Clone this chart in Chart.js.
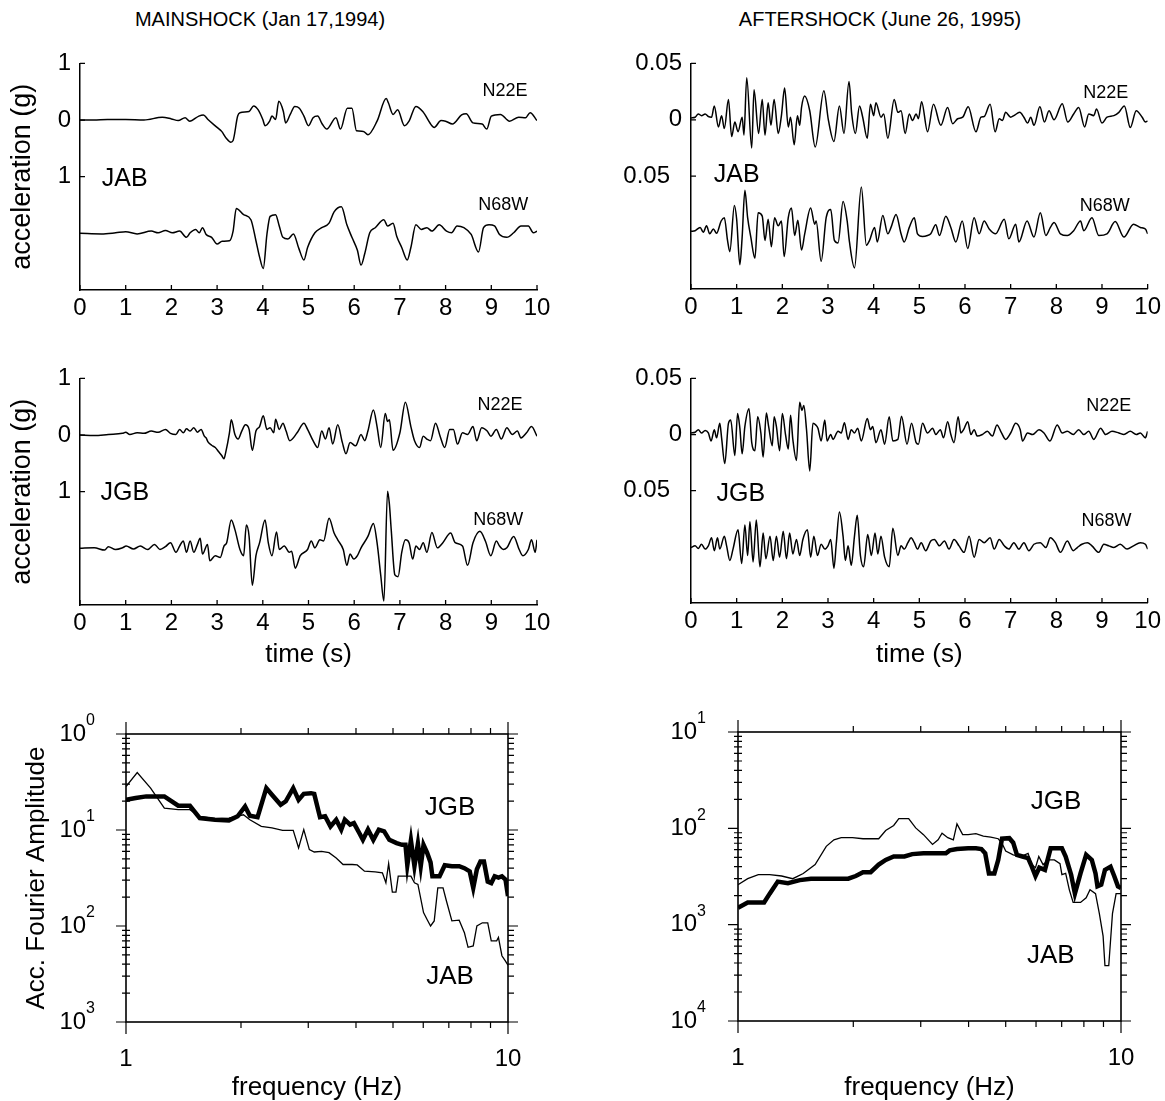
<!DOCTYPE html>
<html><head><meta charset="utf-8"><title>JAB / JGB mainshock and aftershock records</title>
<script src="https://cdn.jsdelivr.net/npm/chart.js@4.4.1/dist/chart.umd.min.js"></script>
<style>
html,body{margin:0;padding:0;background:#fff}
body{position:relative;width:1165px;height:1101px;overflow:hidden;font-family:"Liberation Sans",Arial,Helvetica,sans-serif;color:#000}
canvas{position:absolute}
.ttl{position:absolute;top:19px;font-size:20px;transform:translate(-50%,-50%);white-space:nowrap}
</style></head><body>
<div class="ttl" style="left:260px">MAINSHOCK (Jan 17,1994)</div>
<div class="ttl" style="left:880px">AFTERSHOCK (June 26, 1995)</div>
<canvas id="p1" width="560" height="300" style="left:0;top:40px"></canvas>
<canvas id="p2" width="585" height="300" style="left:580px;top:40px"></canvas>
<canvas id="p3" width="560" height="320" style="left:0;top:355px"></canvas>
<canvas id="p4" width="585" height="320" style="left:580px;top:355px"></canvas>
<canvas id="p5" width="560" height="401" style="left:0;top:700px"></canvas>
<canvas id="p6" width="585" height="401" style="left:580px;top:700px"></canvas>
<script>
// ---------------- DATA ----------------
// time (s), acceleration (g) pairs read from the records
const jabMainN22E = [[0,0],[0.3,0],[0.6,0.01],[1.0,0.01],[1.4,0],[1.8,0.05],[2.0,0.02],[2.15,-0.01],[2.3,0.04],[2.4,-0.02],[2.6,0.07],[2.7,0.09],[2.8,0.01],[3.0,-0.13],[3.1,-0.2],[3.2,-0.32],[3.3,-0.39],[3.35,-0.36],[3.45,0.07],[3.5,0.13],[3.7,0.15],[3.8,0.25],[3.9,0.18],[4.0,0.01],[4.05,-0.1],[4.15,-0.02],[4.2,0.07],[4.28,0.01],[4.35,0.33],[4.45,0.15],[4.5,-0.05],[4.6,0.1],[4.7,0.24],[4.8,0.21],[4.9,0.07],[5.0,-0.1],[5.1,0.04],[5.2,0.07],[5.3,-0.07],[5.4,-0.16],[5.6,0.04],[5.7,-0.16],[5.85,0.21],[5.95,0.21],[6.05,-0.19],[6.2,-0.2],[6.3,-0.26],[6.5,-0.02],[6.7,0.38],[6.75,0.3],[6.85,0.1],[6.95,0.18],[7.1,-0.1],[7.2,-0.02],[7.35,0.24],[7.5,0.15],[7.7,-0.1],[7.75,-0.13],[7.9,-0.01],[8.0,-0.02],[8.15,-0.07],[8.35,0.09],[8.45,0.11],[8.6,-0.05],[8.8,-0.07],[8.9,-0.16],[9.0,0.07],[9.2,0.1],[9.4,-0.02],[9.6,0.05],[9.75,0.04],[9.85,0.13],[10,-0.01]];
const jabMainN68W = [[0,0],[0.47,-0.01],[0.78,0.01],[1.0,0.03],[1.25,-0.01],[1.56,0.04],[1.71,0.01],[1.87,0.05],[2.02,0.01],[2.18,0.04],[2.33,-0.07],[2.41,0.01],[2.53,0.07],[2.61,0.01],[2.68,0.1],[2.76,-0.02],[2.88,-0.07],[3.0,-0.19],[3.11,-0.14],[3.27,-0.13],[3.35,0.04],[3.42,0.44],[3.58,0.33],[3.74,0.24],[3.85,-0.13],[3.93,-0.42],[4.01,-0.62],[4.09,-0.02],[4.16,0.3],[4.28,0.33],[4.36,0.13],[4.44,-0.07],[4.55,-0.1],[4.67,-0.01],[4.79,-0.27],[4.9,-0.47],[4.98,-0.25],[5.14,0.01],[5.29,0.1],[5.45,0.18],[5.56,0.38],[5.72,0.47],[5.84,0.15],[5.95,-0.07],[6.07,-0.3],[6.15,-0.56],[6.23,-0.36],[6.34,0.01],[6.46,0.1],[6.65,0.24],[6.73,0.13],[6.85,0.18],[6.93,-0.05],[7.04,-0.25],[7.16,-0.47],[7.24,-0.25],[7.35,0.15],[7.47,0.07],[7.59,0.1],[7.7,0.04],[7.86,0.15],[8.02,0.04],[8.13,0.01],[8.25,0.13],[8.4,0.1],[8.56,-0.02],[8.72,-0.33],[8.83,0.1],[8.95,0.15],[9.07,0.13],[9.18,-0.02],[9.34,-0.07],[9.49,0.01],[9.65,0.13],[9.81,0.13],[9.92,0.01],[10,0.04]];
const jgbMainN22E = [[0,0],[0.31,-0.01],[0.62,0.01],[0.93,0.03],[1.0,0.05],[1.09,0.01],[1.25,0.04],[1.4,0.03],[1.56,0.07],[1.71,0.05],[1.87,0.1],[1.98,0.03],[2.1,0.01],[2.18,0.1],[2.26,0.04],[2.33,0.11],[2.41,0.07],[2.49,0.13],[2.57,0.05],[2.65,0.1],[2.72,-0.02],[2.76,-0.05],[2.8,-0.12],[2.88,-0.18],[2.96,-0.22],[3.04,-0.3],[3.1,-0.36],[3.15,-0.42],[3.19,-0.3],[3.27,0.04],[3.31,0.27],[3.39,0.01],[3.46,-0.07],[3.54,0.07],[3.62,0.18],[3.7,0.1],[3.77,-0.27],[3.85,0.07],[3.93,0.15],[4.01,0.34],[4.09,0.1],[4.16,0.13],[4.24,0.04],[4.28,0.28],[4.36,0.1],[4.44,0.21],[4.51,0.07],[4.59,-0.1],[4.75,0.04],[4.9,0.21],[4.98,0.1],[5.1,-0.1],[5.2,-0.22],[5.29,0.07],[5.37,-0.07],[5.45,0.13],[5.53,-0.16],[5.64,0.18],[5.74,-0.13],[5.82,-0.33],[5.91,-0.13],[6.03,-0.19],[6.15,0.01],[6.23,-0.1],[6.3,0.07],[6.42,0.44],[6.5,0.15],[6.58,-0.22],[6.68,0.38],[6.73,0.24],[6.77,0.27],[6.85,-0.27],[7.0,0.04],[7.12,0.58],[7.24,0.15],[7.32,-0.1],[7.43,-0.22],[7.51,-0.02],[7.59,-0.07],[7.67,-0.1],[7.78,0.21],[7.88,-0.02],[7.98,-0.22],[8.09,0.1],[8.17,0.1],[8.26,-0.16],[8.37,0.04],[8.48,0.01],[8.6,0.15],[8.68,-0.1],[8.79,0.13],[8.91,0.07],[8.99,-0.02],[9.11,0.1],[9.22,-0.07],[9.34,0.13],[9.46,0.01],[9.57,0.07],[9.65,-0.05],[9.77,0.04],[9.88,0.15],[10,-0.02]];
const jgbMainN68W = [[0,0],[0.31,0.01],[0.54,-0.03],[0.62,0.03],[0.78,-0.02],[0.93,0.01],[1.01,0.04],[1.17,-0.01],[1.32,0.04],[1.48,-0.02],[1.63,0.07],[1.75,-0.02],[1.87,0.03],[1.98,0.1],[2.1,-0.07],[2.18,0.04],[2.26,0.13],[2.33,-0.07],[2.41,0.13],[2.49,-0.07],[2.57,0.07],[2.63,0.18],[2.68,-0.1],[2.79,0.07],[2.84,-0.22],[2.96,-0.13],[3.07,-0.16],[3.15,0.04],[3.21,0.1],[3.31,0.5],[3.39,0.33],[3.5,-0.02],[3.58,-0.13],[3.64,0.41],[3.7,0.21],[3.77,-0.65],[3.85,-0.13],[3.93,0.1],[4.05,0.5],[4.12,0.1],[4.2,-0.13],[4.3,0.29],[4.36,-0.02],[4.47,0.04],[4.58,-0.07],[4.63,-0.05],[4.71,-0.35],[4.82,-0.13],[4.98,-0.02],[5.06,0.13],[5.14,0.01],[5.25,0.15],[5.33,0.13],[5.45,0.53],[5.56,0.27],[5.64,0.15],[5.76,-0.02],[5.84,-0.3],[5.91,-0.1],[5.99,-0.19],[6.07,-0.13],[6.15,0.01],[6.3,0.21],[6.42,0.44],[6.5,0.1],[6.58,-0.47],[6.65,-0.93],[6.73,1.01],[6.77,0.78],[6.81,0.33],[6.89,-0.47],[6.96,-0.5],[7.04,-0.07],[7.12,0.15],[7.2,0.1],[7.28,-0.19],[7.35,0.04],[7.43,-0.02],[7.51,0.1],[7.59,-0.07],[7.7,0.28],[7.82,0.01],[7.94,0.1],[8.11,0.27],[8.21,0.1],[8.37,0.04],[8.48,-0.3],[8.6,0.1],[8.75,0.3],[8.87,0.13],[8.99,-0.13],[9.11,0.13],[9.18,0.04],[9.26,-0.02],[9.34,0.01],[9.49,0.21],[9.61,-0.02],[9.69,-0.13],[9.81,-0.02],[9.88,0.15],[9.96,-0.07],[10,0.15]];
const jabAfterN22E = [[0,0.0017],[0.09,0.0023],[0.16,0.0052],[0.23,0.0037],[0.31,0.0052],[0.38,0.0029],[0.45,0.0023],[0.51,0.0123],[0.6,-0.0063],[0.67,0.0037],[0.73,-0.0078],[0.82,0.0181],[0.89,-0.0149],[0.96,-0.002],[1.03,-0.0106],[1.12,0.0023],[1.16,-0.0135],[1.22,0.0373],[1.33,-0.025],[1.38,0.0267],[1.48,-0.0121],[1.56,0.0181],[1.62,-0.0135],[1.69,0.0152],[1.75,-0.0049],[1.82,0.0181],[1.91,-0.0121],[1.98,0.0037],[2.05,0.0281],[2.13,-0.0063],[2.18,0.0023],[2.26,-0.0221],[2.33,0.0037],[2.38,-0.0049],[2.42,0.0109],[2.49,0.021],[2.6,0.008],[2.72,-0.0241],[2.91,0.0258],[3.01,-0.0006],[3.13,-0.0192],[3.25,0.0123],[3.35,-0.0121],[3.46,0.0339],[3.52,0.0052],[3.6,-0.0121],[3.69,0.0123],[3.76,0.0023],[3.86,-0.0164],[3.93,0.0138],[4.0,0.0037],[4.05,0.0152],[4.16,0.0023],[4.22,0.0052],[4.31,-0.0164],[4.45,0.0181],[4.53,0.0066],[4.6,0.008],[4.69,-0.0121],[4.78,0.0052],[4.85,-0.0006],[4.93,0.0052],[4.98,0.001],[5.05,0.0161],[5.18,-0.0106],[5.31,0.0138],[5.47,-0.0049],[5.62,0.0109],[5.73,-0.0034],[5.84,0.0009],[5.95,0.0023],[6.07,0.0115],[6.24,-0.0106],[6.35,0.0023],[6.42,0.0029],[6.55,0.0138],[6.66,-0.0106],[6.75,0.0009],[6.82,-0.0006],[6.89,0.0066],[7.0,0.0023],[7.07,0.0037],[7.2,0.0066],[7.29,0.0023],[7.37,-0.0029],[7.44,0.0023],[7.51,-0.0049],[7.64,0.0115],[7.74,-0.002],[7.84,0.008],[7.95,0],[8.13,0.0143],[8.25,-0.002],[8.38,0.0052],[8.49,0.0109],[8.62,-0.0063],[8.71,0.0052],[8.82,0.0037],[8.88,0.0095],[9.0,-0.0029],[9.11,0.0023],[9.26,0.0037],[9.37,0.0066],[9.49,0.0123],[9.62,-0.0069],[9.75,0.008],[9.88,0.0023],[9.95,-0.002],[10,-0.0011]];
const jabAfterN68W = [[0,0.0011],[0.09,0.0017],[0.2,0.0046],[0.27,0.0003],[0.34,0.006],[0.41,-0.0011],[0.49,0.0032],[0.56,-0.0006],[0.66,0.0103],[0.73,0.0132],[0.8,-0.0069],[0.85,-0.0169],[0.95,0.0241],[1.0,0.0118],[1.07,-0.0284],[1.12,-0.004],[1.18,0.0376],[1.24,0.0132],[1.31,-0.004],[1.4,-0.0227],[1.47,0.0175],[1.56,0.0146],[1.62,-0.0069],[1.69,0.0118],[1.76,-0.0126],[1.83,0.0132],[1.91,0.006],[1.98,0.0103],[2.04,-0.0212],[2.13,0.0132],[2.2,0.0218],[2.27,-0.0026],[2.34,0.0109],[2.42,-0.0155],[2.49,-0.0011],[2.62,0.0218],[2.71,0.0075],[2.74,0.0103],[2.85,-0.0255],[2.96,0.0132],[3.06,0.0204],[3.14,-0.0069],[3.22,-0.0092],[3.33,0.0276],[3.42,0.0103],[3.47,-0.0083],[3.58,-0.0313],[3.73,0.0405],[3.84,-0.0112],[3.91,-0.0069],[4.02,0.0046],[4.08,-0.0083],[4.2,0.0152],[4.31,-0.0011],[4.38,0.0046],[4.49,0.0161],[4.6,-0.0011],[4.67,-0.0083],[4.78,0.0046],[4.89,0.0132],[4.96,-0.0011],[5.07,-0.0034],[5.18,-0.0026],[5.25,-0.0011],[5.36,0.0069],[5.44,-0.0026],[5.58,0.0146],[5.69,0.0046],[5.8,-0.0083],[5.94,0.0103],[6.06,-0.0141],[6.2,0.0132],[6.31,-0.0011],[6.42,0.0103],[6.53,0.0032],[6.67,-0.0011],[6.86,0.0118],[6.96,-0.0055],[7.11,0.0075],[7.18,-0.0083],[7.36,0.0103],[7.51,-0.004],[7.65,0.0175],[7.77,-0.0026],[7.87,0.0046],[7.95,0.0089],[8.09,-0.0011],[8.24,-0.0026],[8.38,0.0017],[8.53,0.0103],[8.6,0.0017],[8.78,0.0132],[8.93,-0.0026],[9.11,-0.0011],[9.29,0.0098],[9.48,-0.004],[9.69,0.0075],[9.84,0.0046],[9.95,0.0032],[10,-0.0011]];
const jgbAfterN22E = [[0,0.0014],[0.09,0.002],[0.16,0.0043],[0.23,0.0014],[0.31,0.0037],[0.38,0.0014],[0.44,-0.0057],[0.51,0.0043],[0.56,-0.0029],[0.63,0.01],[0.67,-0.0029],[0.74,-0.0258],[0.82,0.01],[0.87,0.0129],[0.96,-0.0187],[1.02,0.0187],[1.07,0.0057],[1.12,-0.0172],[1.18,0.0072],[1.27,0.023],[1.33,-0.0072],[1.4,-0.0144],[1.46,0.0158],[1.53,0.0014],[1.58,-0.0201],[1.65,0.0192],[1.7,0.0072],[1.78,-0.01],[1.82,0.0158],[1.87,0.0072],[1.94,-0.0144],[2.0,0.0187],[2.07,0],[2.13,-0.0129],[2.18,0.0172],[2.23,-0.0043],[2.31,-0.023],[2.38,0.0287],[2.43,0.0215],[2.47,0.0258],[2.53,0.0043],[2.6,-0.0324],[2.67,0.01],[2.73,0.0086],[2.78,0.0057],[2.85,-0.0057],[2.93,0.0129],[2.98,-0.0057],[3.06,0],[3.11,-0.0043],[3.22,0.0029],[3.29,0.0014],[3.36,0.0106],[3.44,-0.0043],[3.51,0.0043],[3.58,0.0014],[3.65,0.0057],[3.73,-0.0057],[3.86,0.0143],[3.93,0.0043],[3.98,0.0072],[4.05,-0.0072],[4.16,0.0043],[4.24,-0.0086],[4.34,0.0158],[4.42,-0.0057],[4.53,-0.0043],[4.61,0.0164],[4.73,-0.0086],[4.83,0.01],[4.93,-0.0072],[4.98,-0.0086],[5.07,0.01],[5.18,0.0014],[5.29,0.0057],[5.36,0],[5.46,0.0043],[5.53,-0.0029],[5.62,0.0115],[5.69,0],[5.76,-0.0072],[5.85,0.0158],[5.91,0.0014],[5.97,0.0043],[6.06,0.0115],[6.13,0],[6.2,0.0043],[6.27,-0.0014],[6.38,0],[6.49,0.0029],[6.6,-0.0014],[6.7,0.0086],[6.8,0.0014],[6.89,-0.0043],[7.0,0.0014],[7.11,0.01],[7.21,0.0043],[7.26,-0.0057],[7.37,0.0014],[7.48,0],[7.62,0.0043],[7.73,0.0014],[7.86,-0.0057],[8.02,0.0086],[8.13,0.0014],[8.24,0.0029],[8.37,0],[8.49,0.0043],[8.6,0],[8.71,0.0029],[8.82,-0.0043],[8.97,0.0057],[9.08,0],[9.22,0.0029],[9.37,0.0014],[9.48,0],[9.62,0.0029],[9.75,0],[9.84,0.0014],[9.95,-0.0029],[10,0.0029]];
const jgbAfterN68W = [[0,-0.0006],[0.09,0.0009],[0.16,-0.0014],[0.23,0.0023],[0.31,-0.002],[0.38,0.0009],[0.45,0.008],[0.51,-0.0034],[0.58,0.008],[0.63,-0.002],[0.73,0.0095],[0.78,0.0009],[0.85,-0.0121],[0.92,-0.002],[1.03,0.0152],[1.11,-0.0149],[1.18,0.0195],[1.24,-0.0077],[1.29,0.0224],[1.36,-0.0135],[1.43,0.0238],[1.51,-0.0178],[1.58,0.0123],[1.64,-0.0106],[1.73,0.0095],[1.8,-0.0121],[1.87,0.0095],[1.94,-0.0092],[2.02,0.0138],[2.09,-0.0106],[2.16,0.0123],[2.23,-0.0063],[2.31,0.0066],[2.38,-0.0077],[2.45,0.0066],[2.55,0.0152],[2.62,-0.0092],[2.69,0.0095],[2.77,-0.0077],[2.85,0.0023],[2.93,-0.002],[3.0,0.0009],[3.06,0.0066],[3.13,-0.0192],[3.18,0.0023],[3.25,0.031],[3.33,0.0095],[3.38,-0.0121],[3.44,0.0009],[3.51,-0.0164],[3.58,0.0095],[3.64,0.0281],[3.71,-0.0077],[3.78,-0.0178],[3.87,0.0109],[3.95,-0.0077],[4.03,0.0123],[4.09,-0.0063],[4.16,0.0095],[4.24,-0.0092],[4.34,-0.0178],[4.42,0.0166],[4.53,-0.0077],[4.6,0.0009],[4.67,-0.002],[4.75,0.0037],[4.82,0.008],[4.89,0.0037],[4.96,-0.002],[5.04,0.0037],[5.14,-0.0034],[5.25,0.0052],[5.33,0.0066],[5.44,0.0009],[5.55,0.0052],[5.65,-0.002],[5.76,0.0066],[5.87,0.0009],[5.98,-0.0049],[6.09,0.0095],[6.2,-0.0092],[6.31,0.0066],[6.42,0.0037],[6.55,0.008],[6.64,-0.002],[6.75,0.0066],[6.86,0.0009],[6.96,-0.002],[7.07,0.0037],[7.18,-0.002],[7.29,0.0037],[7.4,-0.0034],[7.51,0.0023],[7.65,0.0037],[7.77,-0.0006],[7.87,0.008],[7.98,0.0037],[8.09,-0.0049],[8.24,0.0052],[8.37,-0.0034],[8.46,-0.0006],[8.56,0.0023],[8.68,0.0037],[8.78,0.0009],[8.93,-0.0049],[9.04,0.0023],[9.15,0.0009],[9.26,-0.0006],[9.4,0.0023],[9.55,-0.002],[9.69,0.0009],[9.84,0.0037],[9.95,0.0023],[10,-0.002]];

// Fourier amplitude spectra: frequency (Hz) and amplitude
const jgbMainFreq = [1.00,1.06,1.13,1.26,1.37,1.47,1.56,1.71,1.86,1.96,2.05,2.11,2.21,2.33,2.41,2.54,2.62,2.74,2.83,2.92,3.05,3.11,3.22,3.32,3.43,3.55,3.66,3.74,3.86,3.95,4.08,4.17,4.30,4.44,4.59,4.74,4.89,5.11,5.28,5.39,5.45,5.57,5.69,5.81,5.91,6.01,6.14,6.27,6.34,6.62,6.83,7.13,7.45,7.69,7.94,8.11,8.29,8.47,8.65,8.85,9.04,9.23,9.44,9.64,9.85,10];
const jgbMainAmp  = [0.206,0.215,0.224,0.224,0.179,0.179,0.133,0.128,0.126,0.139,0.176,0.141,0.136,0.273,0.233,0.183,0.199,0.273,0.206,0.238,0.242,0.238,0.136,0.139,0.109,0.128,0.101,0.128,0.114,0.118,0.093,0.079,0.101,0.079,0.101,0.097,0.079,0.073,0.070,0.070,0.043,0.078,0.042,0.072,0.042,0.070,0.058,0.046,0.033,0.033,0.043,0.042,0.042,0.040,0.037,0.025,0.039,0.047,0.047,0.029,0.028,0.033,0.032,0.033,0.0305,0.0205];
const jabMainFreq = [1.00,1.07,1.16,1.26,1.37,1.47,1.56,1.71,1.86,2.03,2.11,2.26,2.41,2.57,2.74,2.83,2.92,3.02,3.11,3.25,3.40,3.55,3.70,3.91,4.03,4.21,4.49,4.69,4.79,4.87,4.98,5.09,5.16,5.57,5.69,5.81,6.01,6.14,6.27,6.41,6.55,6.76,6.90,7.13,7.45,7.69,7.86,8.11,8.29,8.57,8.85,9.04,9.34,9.44,9.64,9.85,10];
const jabMainAmp  = [0.284,0.397,0.273,0.169,0.163,0.163,0.139,0.131,0.133,0.144,0.128,0.109,0.105,0.099,0.099,0.065,0.101,0.0625,0.059,0.060,0.058,0.051,0.0437,0.0437,0.0433,0.0372,0.0366,0.0358,0.0282,0.0447,0.0225,0.0225,0.033,0.033,0.0282,0.0271,0.0138,0.0117,0.0100,0.0113,0.025,0.025,0.0182,0.0113,0.0115,0.0085,0.0060,0.0062,0.0100,0.0108,0.0108,0.0070,0.0070,0.0076,0.0049,0.0043,0.0039];
const jabAfterFreq = [1.00,1.06,1.13,1.21,1.30,1.39,1.48,1.59,1.70,1.78,1.86,1.99,2.12,2.33,2.43,2.55,2.63,2.79,2.91,3.05,3.22,3.33,3.41,3.53,3.65,3.73,3.86,3.99,4.18,4.37,4.57,4.78,4.89,5.00,5.23,5.47,5.72,5.85,5.98,6.10,6.26,6.48,6.70,6.93,7.01,7.17,7.33,7.50,7.84,8.11,8.30,8.58,8.78,8.98,9.08,9.29,9.50,9.71,10];
const jabAfterAmp  = [0.0026,0.0030,0.0033,0.0033,0.0032,0.0030,0.0034,0.0042,0.0065,0.0076,0.0080,0.0080,0.0078,0.0078,0.0095,0.0107,0.0126,0.0126,0.0101,0.0086,0.0068,0.0076,0.0089,0.0080,0.0076,0.0111,0.0086,0.0086,0.0088,0.0083,0.0081,0.0078,0.0070,0.0058,0.0053,0.0051,0.0055,0.0042,0.0039,0.0051,0.0042,0.0047,0.0047,0.0043,0.0033,0.0034,0.0023,0.0017,0.0017,0.0019,0.0023,0.0021,0.0013,0.00076,0.000375,0.000375,0.0013,0.0021,0.0021];
const jgbAfterFreq = [1.00,1.06,1.11,1.17,1.21,1.27,1.35,1.45,1.55,1.78,1.86,1.94,2.03,2.12,2.22,2.33,2.43,2.55,2.72,2.85,3.05,3.49,3.57,3.73,3.99,4.18,4.32,4.42,4.52,4.67,4.78,4.89,5.11,5.23,5.35,5.53,5.72,5.85,5.98,6.12,6.33,6.55,7.01,7.17,7.41,7.58,7.84,8.11,8.39,8.58,8.68,8.88,9.08,9.39,9.60,9.82,10];
const jgbAfterAmp  = [0.0015,0.0017,0.0017,0.0017,0.0021,0.0028,0.0027,0.0029,0.0030,0.0030,0.0030,0.0030,0.0032,0.0035,0.0035,0.0042,0.0047,0.0051,0.0051,0.0054,0.0055,0.0055,0.0059,0.0061,0.0062,0.0062,0.0061,0.0055,0.0034,0.0034,0.0047,0.0078,0.0079,0.0071,0.0053,0.0051,0.0049,0.0040,0.0032,0.0039,0.0037,0.0062,0.0062,0.0051,0.0033,0.0021,0.0034,0.0053,0.0047,0.0034,0.0025,0.0026,0.0037,0.0040,0.0032,0.0025,0.0024];

// trace baselines (N22E on 0, N68W shifted down)
const mainOffsets = {N22E: 0, N68W: -2};
const afterOffsets = {N22E: 0, N68W: -0.1};

// tick values and labels (as printed)
const mainYTicks = [1, 0, -1];
const mainYTickLabels = ['1', '0', '1'];
const afterYTicks = [0.05, 0, -0.05];
const afterYTickLabels = ['0.05', '0', '0.05\u2002'];
const freqLabelTicks = [1, 10];
const specMainDecades = [1, 0.1, 0.01, 0.001];
const specMainExponents = ['0', '1', '2', '3'];
const specAfterDecades = [0.1, 0.01, 0.001, 0.0001];
const specAfterExponents = ['1', '2', '3', '4'];

// ---------------- RENDERING ----------------
const FONT = '"Liberation Sans", Arial, Helvetica, sans-serif';
Chart.defaults.font.family = FONT;
Chart.defaults.color = '#000';

const inTicks = {
  id: 'inTicks',
  afterDraw(chart, args, opts) {
    if (!opts || !opts.len) return;
    const {ctx, chartArea: a, scales} = chart;
    ctx.save(); ctx.strokeStyle = '#000'; ctx.lineWidth = 1.3; ctx.beginPath();
    scales.x.ticks.forEach(t => { const p = scales.x.getPixelForValue(t.value); ctx.moveTo(p, a.bottom); ctx.lineTo(p, a.bottom - opts.len); });
    scales.y.ticks.forEach(t => { const p = scales.y.getPixelForValue(t.value); ctx.moveTo(a.left, p); ctx.lineTo(a.left + opts.len, p); });
    ctx.stroke(); ctx.restore();
  }
};
const isDecade = v => Math.abs(Math.log10(v) - Math.round(Math.log10(v))) < 1e-6;
const logFrame = {
  id: 'logFrame',
  afterDraw(chart, args, opts) {
    if (!opts || !opts.on) return;
    const {ctx, chartArea: a, scales: {x, y}} = chart;
    ctx.save(); ctx.strokeStyle = '#000'; ctx.lineWidth = 1.6;
    ctx.strokeRect(a.left, a.top, a.right - a.left, a.bottom - a.top);
    ctx.lineWidth = 1.2; ctx.beginPath();
    y.ticks.forEach(t => {
      const p = y.getPixelForValue(t.value);
      if (isDecade(t.value)) { ctx.moveTo(a.left - 10, p); ctx.lineTo(a.left, p); ctx.moveTo(a.right, p); ctx.lineTo(a.right + 10, p); }
      else { ctx.moveTo(a.left - 4, p); ctx.lineTo(a.left + 4, p); ctx.moveTo(a.right, p); ctx.lineTo(a.right + 6, p); }
    });
    x.ticks.forEach(t => {
      const p = x.getPixelForValue(t.value);
      const L = isDecade(t.value) ? 12 : 6;
      ctx.moveTo(p, a.top - L); ctx.lineTo(p, a.top); ctx.moveTo(p, a.bottom); ctx.lineTo(p, a.bottom + L);
    });
    ctx.stroke();
    // decade labels: "10" with a raised exponent
    if (opts.decades) {
      ctx.fillStyle = '#000'; ctx.textBaseline = 'middle'; ctx.textAlign = 'left';
      opts.decades.forEach((d, i) => {
        const p = y.getPixelForValue(d);
        ctx.font = '16px ' + FONT; const we = ctx.measureText(opts.exps[i]).width;
        ctx.font = '24px ' + FONT; const wb = ctx.measureText('10').width;
        const right = a.left - opts.pad;
        ctx.fillText('10', right - we - wb, p);
        ctx.font = '16px ' + FONT; ctx.fillText(opts.exps[i], right - we, p - 13);
      });
    }
    ctx.restore();
  }
};
const notes = {
  id: 'notes',
  afterDraw(chart, args, opts) {
    if (!opts || !opts.items) return;
    const {ctx, scales: {x, y}} = chart;
    ctx.save(); ctx.fillStyle = '#000'; ctx.textAlign = 'center'; ctx.textBaseline = 'middle';
    opts.items.forEach(n => { ctx.font = n.size + 'px ' + FONT; ctx.fillText(n.text, x.getPixelForValue(n.x), y.getPixelForValue(n.y)); });
    ctx.restore();
  }
};

function toPoints(pairs, offset) { return pairs.map(p => ({x: p[0], y: p[1] + offset})); }

function wavePanel(id, g, traces, yMin, yMax, yTicks, yLabels, items, xTitle, yTitle) {
  return new Chart(document.getElementById(id), {
    type: 'line',
    data: {datasets: traces.map(tr => ({data: toPoints(tr.data, tr.offset), borderColor: '#000', borderWidth: 1.5, pointRadius: 0, cubicInterpolationMode: 'monotone', fill: false}))},
    options: {
      responsive: false, animation: false, events: [],
      layout: {padding: {top: g.pt, right: g.pr, left: 0, bottom: 0}},
      plugins: {legend: {display: false}, tooltip: {enabled: false}, inTicks: {len: 5}, notes: {items}},
      scales: {
        x: {type: 'linear', position: 'bottom', min: 0, max: 10,
          afterFit(s) { s.height = g.xh; },
          grid: {display: false, drawTicks: false},
          border: {display: true, color: '#000', width: 1.5},
          ticks: {stepSize: 1, autoSkip: false, maxRotation: 0, padding: 4, color: '#000', font: {size: 24}},
          title: xTitle ? {display: true, text: xTitle, color: '#000', font: {size: 26}, padding: {top: 0, bottom: 5}} : {display: false}},
        y: {type: 'linear', min: yMin, max: yMax,
          afterFit(s) { s.width = g.yw; },
          afterBuildTicks(s) { s.ticks = yTicks.map(v => ({value: v})); },
          grid: {display: false, drawTicks: false},
          border: {display: true, color: '#000', width: 1.5},
          ticks: {autoSkip: false, padding: 9, color: '#000', font: {size: 24}, callback: v => { const i = yTicks.indexOf(v); return i >= 0 ? yLabels[i] : ''; }},
          title: yTitle ? {display: true, text: yTitle, color: '#000', font: {size: 27}, padding: {top: 6}} : {display: false}}
      }
    },
    plugins: [inTicks, notes]
  });
}

function logTicks(min, max) {
  const out = [];
  for (let d = min; d < max * 0.999; d *= 10) for (let k = 1; k <= 9; k++) out.push(Number((d * k).toPrecision(6)));
  out.push(max);
  return out;
}

function specPanel(id, g, curves, yMin, yMax, decades, exps, items, yTitle) {
  return new Chart(document.getElementById(id), {
    type: 'line',
    data: {datasets: curves.map(c => ({data: c.f.map((f, i) => ({x: f, y: c.a[i]})), borderColor: '#000', borderWidth: c.w, pointRadius: 0, tension: 0, fill: false}))},
    options: {
      responsive: false, animation: false, events: [],
      layout: {padding: {top: g.pt, right: g.pr, left: 0, bottom: 0}},
      plugins: {legend: {display: false}, tooltip: {enabled: false}, logFrame: {on: true, decades, exps, pad: g.ylp}, notes: {items}},
      scales: {
        x: {type: 'logarithmic', position: 'bottom', min: 1, max: 10,
          afterFit(s) { s.height = g.xh; },
          afterBuildTicks(s) { s.ticks = logTicks(1, 10).map(v => ({value: v})); },
          grid: {display: false, drawTicks: false}, border: {display: false},
          ticks: {autoSkip: false, maxRotation: 0, padding: 23, color: '#000', font: {size: 24}, callback: v => freqLabelTicks.includes(v) ? String(v) : ''},
          title: {display: true, text: 'frequency (Hz)', color: '#000', font: {size: 26, lineHeight: 1}, padding: {top: 0, bottom: 0}}},
        y: {type: 'logarithmic', min: yMin, max: yMax,
          afterFit(s) { s.width = g.yw; },
          afterBuildTicks(s) { s.ticks = logTicks(yMin, yMax).map(v => ({value: v})); },
          grid: {display: false, drawTicks: false}, border: {display: false},
          ticks: {display: false},
          title: yTitle ? {display: true, text: yTitle, color: '#000', font: {size: 26}, padding: {top: 21}} : {display: false}}
      }
    },
    plugins: [logFrame, notes]
  });
}

wavePanel('p1', {yw: 80, pt: 17, pr: 23, xh: 50},
  [{data: jabMainN22E, offset: mainOffsets.N22E}, {data: jabMainN68W, offset: mainOffsets.N68W}],
  -3, 1, mainYTicks, mainYTickLabels,
  [{text: 'N22E', x: 9.3, y: 0.52, size: 18}, {text: 'N68W', x: 9.26, y: -1.5, size: 18}, {text: 'JAB', x: 0.98, y: -1.05, size: 25}],
  null, 'acceleration (g)');
wavePanel('p2', {yw: 111, pt: 16, pr: 16, xh: 51},
  [{data: jabAfterN22E, offset: afterOffsets.N22E}, {data: jabAfterN68W, offset: afterOffsets.N68W}],
  -0.15, 0.05, afterYTicks, afterYTickLabels,
  [{text: 'N22E', x: 9.08, y: 0.0233, size: 18}, {text: 'N68W', x: 9.06, y: -0.0767, size: 18}, {text: 'JAB', x: 1.0, y: -0.049, size: 25}],
  null, null);
wavePanel('p3', {yw: 80, pt: 17, pr: 23, xh: 70},
  [{data: jgbMainN22E, offset: mainOffsets.N22E}, {data: jgbMainN68W, offset: mainOffsets.N68W}],
  -3, 1, mainYTicks, mainYTickLabels,
  [{text: 'N22E', x: 9.19, y: 0.53, size: 18}, {text: 'N68W', x: 9.15, y: -1.5, size: 18}, {text: 'JGB', x: 0.98, y: -1.03, size: 25}],
  'time (s)', 'acceleration (g)');
wavePanel('p4', {yw: 111, pt: 16, pr: 16, xh: 72},
  [{data: jgbAfterN22E, offset: afterOffsets.N22E}, {data: jgbAfterN68W, offset: afterOffsets.N68W}],
  -0.15, 0.05, afterYTicks, afterYTickLabels,
  [{text: 'N22E', x: 9.15, y: 0.025, size: 18}, {text: 'N68W', x: 9.1, y: -0.0767, size: 18}, {text: 'JGB', x: 1.09, y: -0.0526, size: 25}],
  'time (s)', null);
specPanel('p5', {yw: 126, pt: 34, pr: 52, xh: 79, ylp: 31},
  [{f: jabMainFreq, a: jabMainAmp, w: 1.3}, {f: jgbMainFreq, a: jgbMainAmp, w: 4.5}],
  0.001, 1, specMainDecades, specMainExponents,
  [{text: 'JGB', x: 7.05, y: 0.17, size: 26}, {text: 'JAB', x: 7.05, y: 0.00295, size: 26}],
  'Acc. Fourier Amplitude');
specPanel('p6', {yw: 158, pt: 32, pr: 44, xh: 80, ylp: 32},
  [{f: jabAfterFreq, a: jabAfterAmp, w: 1.3}, {f: jgbAfterFreq, a: jgbAfterAmp, w: 4.5}],
  0.0001, 0.1, specAfterDecades, specAfterExponents,
  [{text: 'JGB', x: 6.77, y: 0.01875, size: 26}, {text: 'JAB', x: 6.56, y: 0.00048, size: 26}],
  null);
</script>
</body></html>
